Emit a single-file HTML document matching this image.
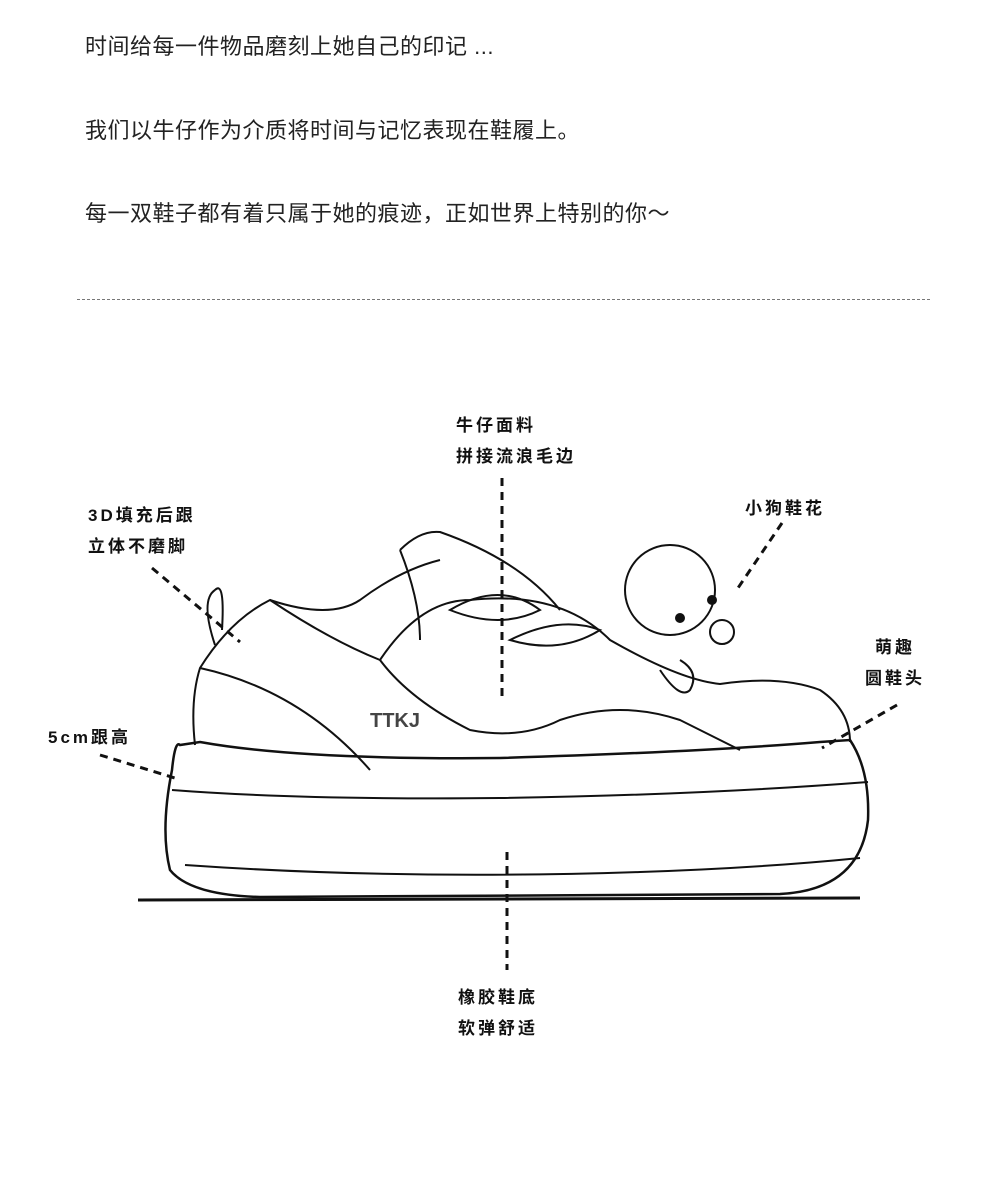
<!DOCTYPE html>
<html><head><meta charset="utf-8"><style>
body{margin:0;background:#fff;width:1000px;height:1187px;overflow:hidden;font-family:"Liberation Sans","Noto Sans CJK SC",sans-serif}
.t{position:absolute;left:85px;font-size:22px;color:#222;letter-spacing:0.5px}
.l{position:absolute;font-size:17px;color:#111;letter-spacing:3px;line-height:31px;font-weight:bold}
</style></head><body>
<div class="t" style="top:29px">时间给每一件物品磨刻上她自己的印记 ...</div>
<div class="t" style="top:113px">我们以牛仔作为介质将时间与记忆表现在鞋履上。</div>
<div class="t" style="top:196px">每一双鞋子都有着只属于她的痕迹，正如世界上特别的你～</div>
<div style="position:absolute;left:77px;top:299px;width:853px;border-top:1px dashed #777"></div>
<div class="l" style="left:456px;top:410px">牛仔面料<br>拼接流浪毛边</div>
<div class="l" style="left:88px;top:500px">3D填充后跟<br>立体不磨脚</div>
<div class="l" style="left:745px;top:493px">小狗鞋花</div>
<div class="l" style="left:865px;top:632px;text-align:center">萌趣<br>圆鞋头</div>
<div class="l" style="left:48px;top:722px">5cm跟高</div>
<div class="l" style="left:458px;top:982px">橡胶鞋底<br>软弹舒适</div>
<svg width="1000" height="1187" style="position:absolute;left:0;top:0" fill="none" stroke="#111" stroke-width="2">
<g stroke-dasharray="8,6" stroke-width="3">
<line x1="502" y1="478" x2="502" y2="700"/>
<line x1="152" y1="568" x2="240" y2="642"/>
<line x1="782" y1="523" x2="738" y2="588"/>
<line x1="897" y1="705" x2="822" y2="748"/>
<line x1="100" y1="755" x2="178" y2="779"/>
<line x1="507" y1="852" x2="507" y2="970"/>
</g>
<path d="M138 900 L860 898" stroke-width="3"/>
<path d="M180 745 Q175 740 172 770 Q160 830 170 870 Q190 895 260 897 L780 894 Q860 890 868 820 Q870 770 850 740 L820 742 Q700 752 500 758 Q300 760 200 742 Z" stroke-width="2.5"/>
<path d="M172 790 Q300 800 500 798 Q700 795 868 782"/>
<path d="M185 865 Q400 880 640 872 Q760 868 860 858"/>
<path d="M195 745 Q190 700 200 668 Q230 620 270 600 Q330 640 380 660 Q420 600 470 600 Q560 590 610 640 Q680 680 720 684 Q780 675 820 690 Q850 710 850 742"/>
<path d="M200 668 Q300 690 370 770"/>
<path d="M380 660 Q410 700 470 730 Q520 740 560 720 Q620 700 680 720 Q720 740 740 750"/>
<path d="M400 550 Q420 530 440 532 Q520 560 560 610 M400 550 Q420 600 420 640 M215 590 Q200 600 215 645 M215 590 Q225 580 222 630"/>
<path d="M270 600 Q330 620 360 600 Q400 570 440 560"/>
<path d="M450 610 Q500 580 540 610 Q500 630 450 610 Z M510 640 Q560 615 600 630 Q560 655 510 640 Z"/>
<circle cx="670" cy="590" r="45"/>
<circle cx="680" cy="618" r="4" fill="#111"/><circle cx="712" cy="600" r="4" fill="#111"/>
<circle cx="722" cy="632" r="12"/>
<path d="M660 670 Q680 700 690 690 Q700 672 680 660"/>
<text x="370" y="727" font-size="20" font-weight="bold" fill="#444" stroke="none" font-family="Liberation Sans">TTKJ</text>
</svg>
</body></html>
